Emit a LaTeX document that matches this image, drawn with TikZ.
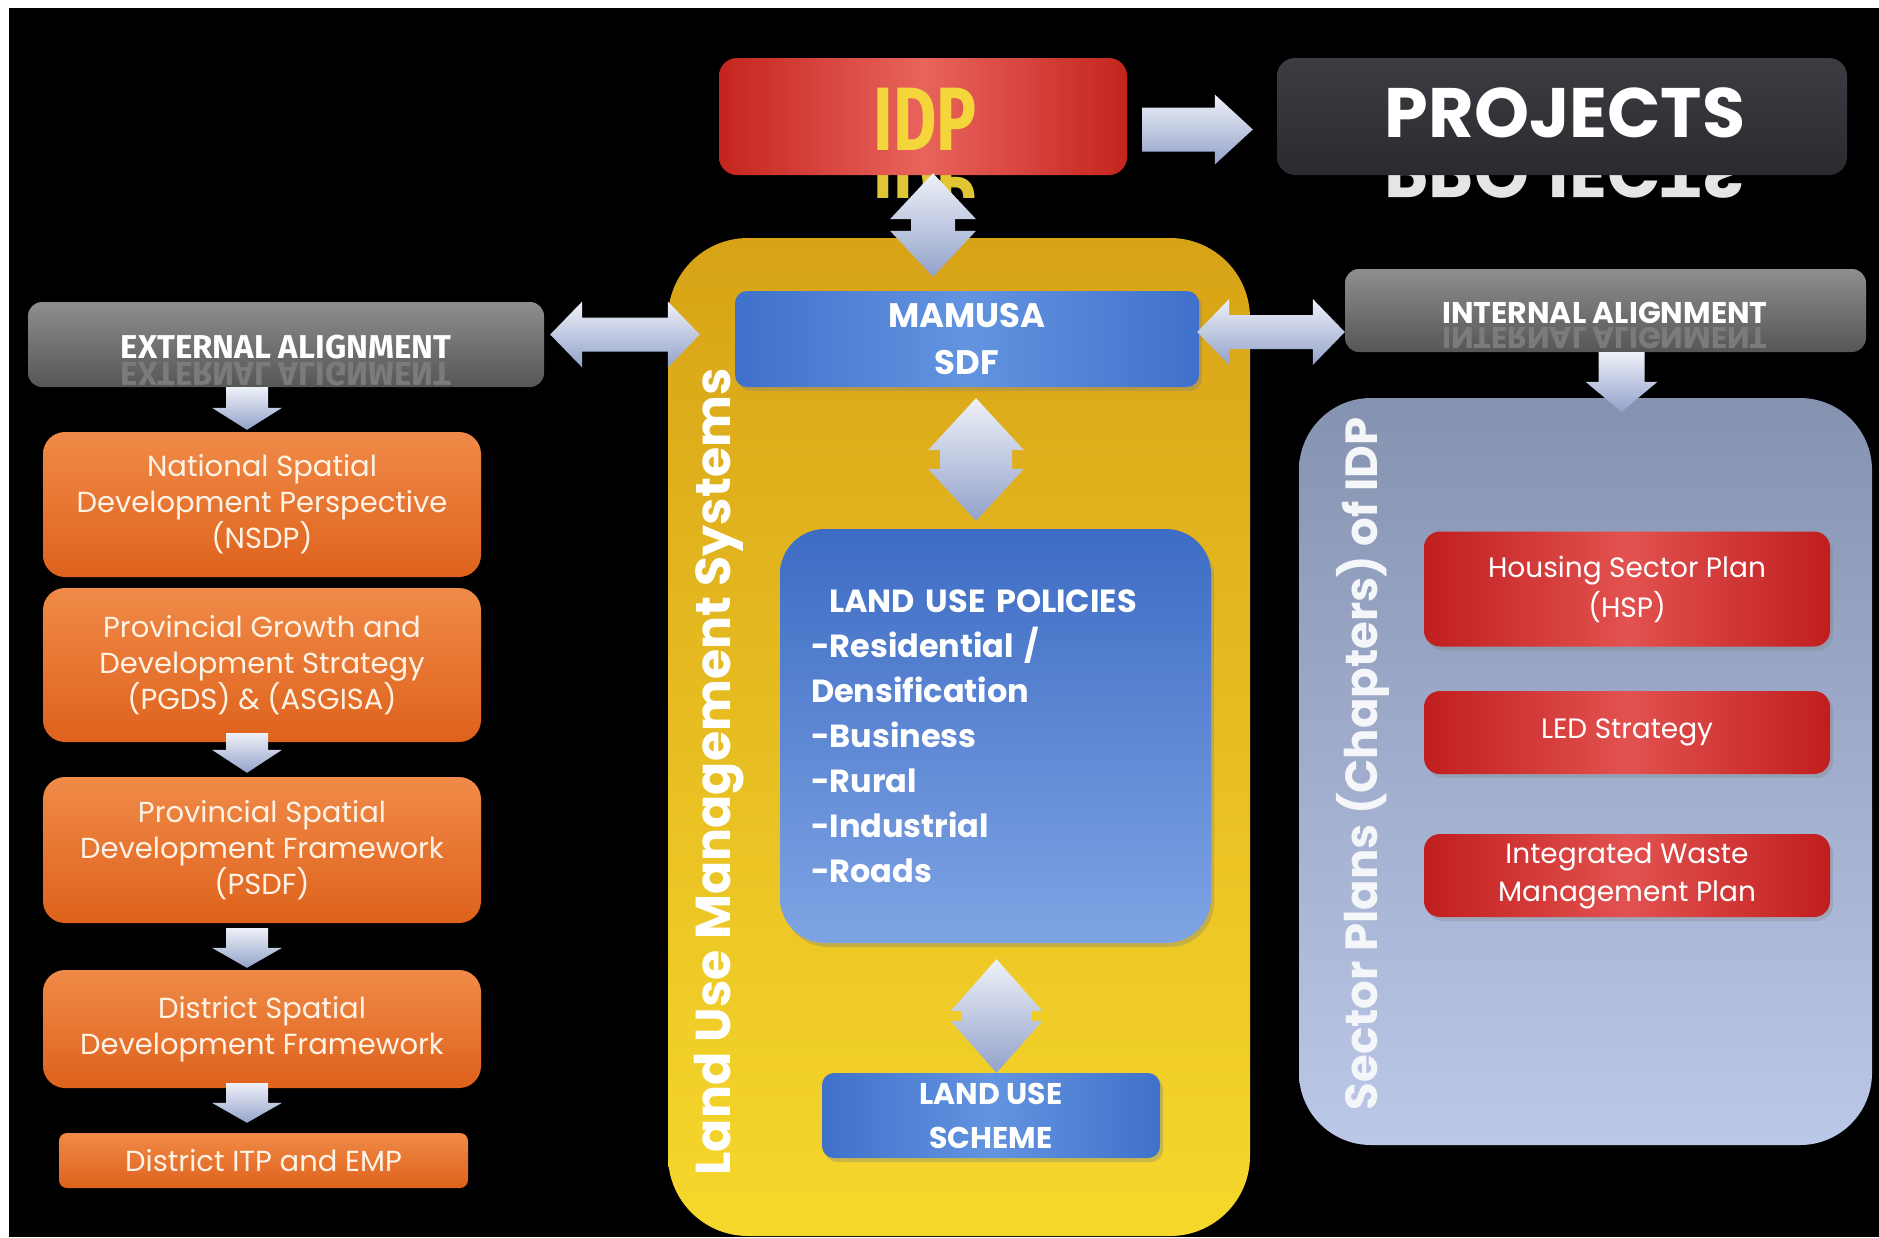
\documentclass[tikz,border=0pt]{standalone}
\usepackage{fontspec}
\usepackage{graphicx}
\setmainfont{Poppins}
\newfontfamily\fira{Fira Sans}
\usetikzlibrary{calc,shadows}

\definecolor{orL}{HTML}{F08A48}
\definecolor{orD}{HTML}{DE621C}
\definecolor{grL}{HTML}{8E8E8E}
\definecolor{grD}{HTML}{565656}
\definecolor{pjL}{HTML}{3C3D42}
\definecolor{pjD}{HTML}{2A2B2F}
\definecolor{rdE}{HTML}{C4241E}
\definecolor{rdM}{HTML}{E8645C}
\definecolor{ylT}{HTML}{D8A317}
\definecolor{ylB}{HTML}{F6D82C}
\definecolor{bluE}{HTML}{3F71CB}
\definecolor{bluM}{HTML}{6394E0}
\definecolor{bluT}{HTML}{3D6CC4}
\definecolor{bluB}{HTML}{7FA4E4}
\definecolor{secT}{HTML}{8592B0}
\definecolor{secB}{HTML}{BCC8E8}
\definecolor{rbE}{HTML}{C01E1E}
\definecolor{rbM}{HTML}{E25250}
\definecolor{arT}{HTML}{EEF1F8}
\definecolor{arB}{HTML}{93A2CA}
\definecolor{idpY}{HTML}{F4D63A}
\definecolor{cream}{HTML}{FFF3E6}

\newcommand{\ArrDown}[5]{\path[arrowsh] let \p1=(#1), \p2=(#2) in
 (\x1-#3,\y1) -- (\x1+#3,\y1) -- (\x1+#3,\y2+#5) -- (\x1+#4,\y2+#5) -- (\x1,\y2) -- (\x1-#4,\y2+#5) -- (\x1-#3,\y2+#5) -- cycle;}
\newcommand{\ArrVDouble}[5]{\path[arrowsh] let \p1=(#1), \p2=(#2) in
 (\x1,\y1) -- (\x1+#4,\y1-#5) -- (\x1+#3,\y1-#5) -- (\x1+#3,\y2+#5) -- (\x1+#4,\y2+#5) -- (\x1,\y2) -- (\x1-#4,\y2+#5) -- (\x1-#3,\y2+#5) -- (\x1-#3,\y1-#5) -- (\x1-#4,\y1-#5) -- cycle;}
\newcommand{\ArrHDouble}[5]{\path[arrowsh] let \p1=(#1), \p2=(#2) in
 (\x1,\y1) -- (\x1+#5,\y1+#4) -- (\x1+#5,\y1+#3) -- (\x2-#5,\y1+#3) -- (\x2-#5,\y1+#4) -- (\x2,\y1) -- (\x2-#5,\y1-#4) -- (\x2-#5,\y1-#3) -- (\x1+#5,\y1-#3) -- (\x1+#5,\y1-#4) -- cycle;}
\newcommand{\ArrRight}[5]{\path[arrowsh] let \p1=(#1), \p2=(#2) in
 (\x1,\y1+#3) -- (\x2-#5,\y1+#3) -- (\x2-#5,\y1+#4) -- (\x2,\y1) -- (\x2-#5,\y1-#4) -- (\x2-#5,\y1-#3) -- (\x1,\y1-#3) -- cycle;}

\begin{document}
\begin{tikzpicture}[x=1pt,y=-1pt,
  arrowsh/.style={top color=arT, bottom color=arB, draw=none},
  obox/.style={rounded corners=22pt, top color=orL, bottom color=orD, minimum width=438pt,
     text=cream, align=center, font=\fontsize{29}{36}\selectfont, inner sep=0pt},
  gbox/.style={rounded corners=14pt, top color=grL, bottom color=grD, inner sep=0pt, text=white},
  bbox/.style={rounded corners=12pt, left color=bluE, right color=bluE, middle color=bluM,
     inner sep=0pt, text=white, align=center,
     drop shadow={shadow xshift=3pt, shadow yshift=-4pt, opacity=0.35}},
  rbox/.style={rounded corners=16pt, left color=rbE, right color=rbE, middle color=rbM,
     minimum width=406pt, inner sep=0pt, text=white, align=center,
     font=\fontsize{28}{40}\selectfont,
     drop shadow={shadow xshift=3pt, shadow yshift=-4pt, opacity=0.3}},
  idptxt/.style={font=\fira\bfseries\fontsize{90}{90}\selectfont, text=idpY, inner sep=0pt},
  projtxt/.style={font=\bfseries\fontsize{70}{70}\selectfont, text=white, inner sep=0pt}
]
\useasboundingbox (0,0) rectangle (1879,1237);
\fill[white] (0,0) rectangle (1879,1237);
\fill[black] (9,8) rectangle (1879,1237);

% ---------- reflections of the top titles (cut below y=198) ----------
\node[idptxt, yscale=-1, anchor=base, text=idpY!92!black] (idprefl) at (925,156) {\scalebox{0.74}[1]{IDP}};
\node[projtxt, yscale=-1, anchor=base, text=white!90!black] (projrefl) at (1565,148) {PROJECTS};
\fill[black] (700,198) rectangle (1879,236);

% ---------- big containers ----------
\node[rounded corners=80pt, top color=ylT, bottom color=ylB, minimum width=582pt,
      minimum height=998pt, inner sep=0pt] (lums) at (959,737) {};
\node[rounded corners=72pt, top color=secT, bottom color=secB, minimum width=573pt,
      minimum height=747pt, inner sep=0pt] (sec) at (1585.5,771.5) {};

% ---------- top row ----------
\node[rounded corners=18pt, left color=rdE, right color=rdE, middle color=rdM,
      minimum width=408pt, minimum height=117pt, inner sep=0pt] (idp) at (923,116.5) {};
\node[idptxt, anchor=base] (idplabel) at (925,150) {\scalebox{0.74}[1]{IDP}};

\node[rounded corners=18pt, top color=pjL, bottom color=pjD,
      minimum width=570pt, minimum height=117pt, inner sep=0pt] (proj) at (1562,116.5) {};
\node[projtxt, anchor=base] (projlabel) at (1565,137) {PROJECTS};

% ---------- alignment boxes ----------
\node[gbox, minimum width=516pt, minimum height=85pt] (ext) at (286,344.5) {};
\node[font=\fira\bfseries\fontsize{33}{33}\selectfont, text=white!22!grD, anchor=base, inner sep=0pt,
      yscale=-1] (extrefl) at (286,362) {EXTERNAL ALIGNMENT};
\node[font=\fira\bfseries\fontsize{33}{33}\selectfont, text=white, anchor=base, inner sep=0pt]
   (extlabel) at (286,358) {EXTERNAL ALIGNMENT};

\node[gbox, minimum width=521pt, minimum height=83pt] (int) at (1605.5,310.5) {};
\node[font=\bfseries\fontsize{30}{30}\selectfont, text=white!22!grD, anchor=base, inner sep=0pt,
      yscale=-1] (intrefl) at (1605,327) {INTERNAL ALIGNMENT};
\node[font=\bfseries\fontsize{30}{30}\selectfont, text=white, anchor=base, inner sep=0pt]
   (intlabel) at (1605,323) {INTERNAL ALIGNMENT};

% ---------- left column ----------
\node[obox, minimum height=145pt] (nsdp) at (262,504.5)
   {National Spatial\\Development Perspective\\(NSDP)};
\node[obox, minimum height=154pt] (pgds) at (262,665)
   {Provincial Growth and\\Development Strategy\\(PGDS) \& (ASGISA)};
\node[obox, minimum height=146pt] (psdf) at (262,850)
   {Provincial Spatial\\Development Framework\\(PSDF)};
\node[obox, minimum height=118pt] (dsdf) at (262,1029)
   {District Spatial\\Development Framework};
\node[obox, rounded corners=8pt, minimum width=409pt, minimum height=55pt] (itp) at (263.5,1160.5)
   {District ITP and EMP};

% ---------- middle column ----------
\node[bbox, minimum width=464pt, minimum height=96pt, font=\bfseries\fontsize{34}{47}\selectfont]
   (mam) at (967,339) {MAMUSA\\SDF};
\node[bbox, rounded corners=45pt, top color=bluT, bottom color=bluB, minimum width=431pt,
      minimum height=414pt, text width=369pt, align=left, font=\bfseries\fontsize{32}{45}\selectfont]
   (pol) at (995.5,736)
   {\hspace*{18pt}LAND USE POLICIES\\-Residential /\\Densification\\-Business\\-Rural\\-Industrial\\-Roads};
\node[bbox, minimum width=338pt, minimum height=85pt, font=\bfseries\fontsize{30}{44}\selectfont]
   (sch) at (991,1115.5) {LAND USE\\SCHEME};
\node[rotate=90, anchor=base, font=\bfseries\fontsize{49}{49}\selectfont, text=white, inner sep=0pt]
   (lumslabel) at (730,772) {Land Use Management Systems};

% ---------- right column ----------
\node[rbox, minimum height=115pt] (hsp) at (1627,589) {Housing Sector Plan\\(HSP)};
\node[rbox, minimum height=83pt] (led) at (1627,732.5) {LED Strategy};
\node[rbox, minimum height=83pt, font=\fontsize{28}{38}\selectfont] (iwmp) at (1627,875.5)
   {Integrated Waste\\Management Plan};
\node[rotate=90, anchor=base, font=\bfseries\fontsize{45}{45}\selectfont, text=white!92!secT, inner sep=0pt]
   (seclabel) at (1377,764) {Sector Plans (Chapters) of IDP};

% ---------- connectors ----------
\ArrRight{$(idp.east)+(15,13)$}{$(proj.west)+(-24,13)$}{22pt}{35pt}{38pt}
\ArrVDouble{$(idp.south)+(10,-2)$}{$(mam.north)+(0,-14)$}{22pt}{43pt}{46pt}
\ArrHDouble{$(ext.east)+(6,-10)$}{$(mam.west)+(-35,0)$}{17pt}{33pt}{32pt}
\ArrHDouble{$(mam.east)+(-2,-7)$}{$(int.west)+(0,0)$}{17pt}{33pt}{32pt}
\ArrVDouble{$(mam.south)+(9,11)$}{$(pol.north)+(0,-8)$}{36pt}{48pt}{52pt}
\ArrVDouble{$(pol.south)+(1,16)$}{$(sch.north)$}{35pt}{46pt}{52pt}
\ArrDown{$(int.south)+(16,0)$}{$(sec.north)+(0,14)$}{23pt}{36pt}{30pt}
\ArrDown{$(ext.south)+(-39,0)$}{$(nsdp.north)+(0,-2)$}{21pt}{35pt}{22pt}
\ArrDown{$(pgds.south)+(-15,-9)$}{$(psdf.north)+(0,-4)$}{21pt}{35pt}{23pt}
\ArrDown{$(psdf.south)+(-15,5)$}{$(dsdf.north)+(0,-2)$}{21pt}{35pt}{20pt}
\ArrDown{$(dsdf.south)+(-15,-5)$}{$(itp.north)+(0,-10)$}{21pt}{35pt}{20pt}
\end{tikzpicture}
\end{document}
